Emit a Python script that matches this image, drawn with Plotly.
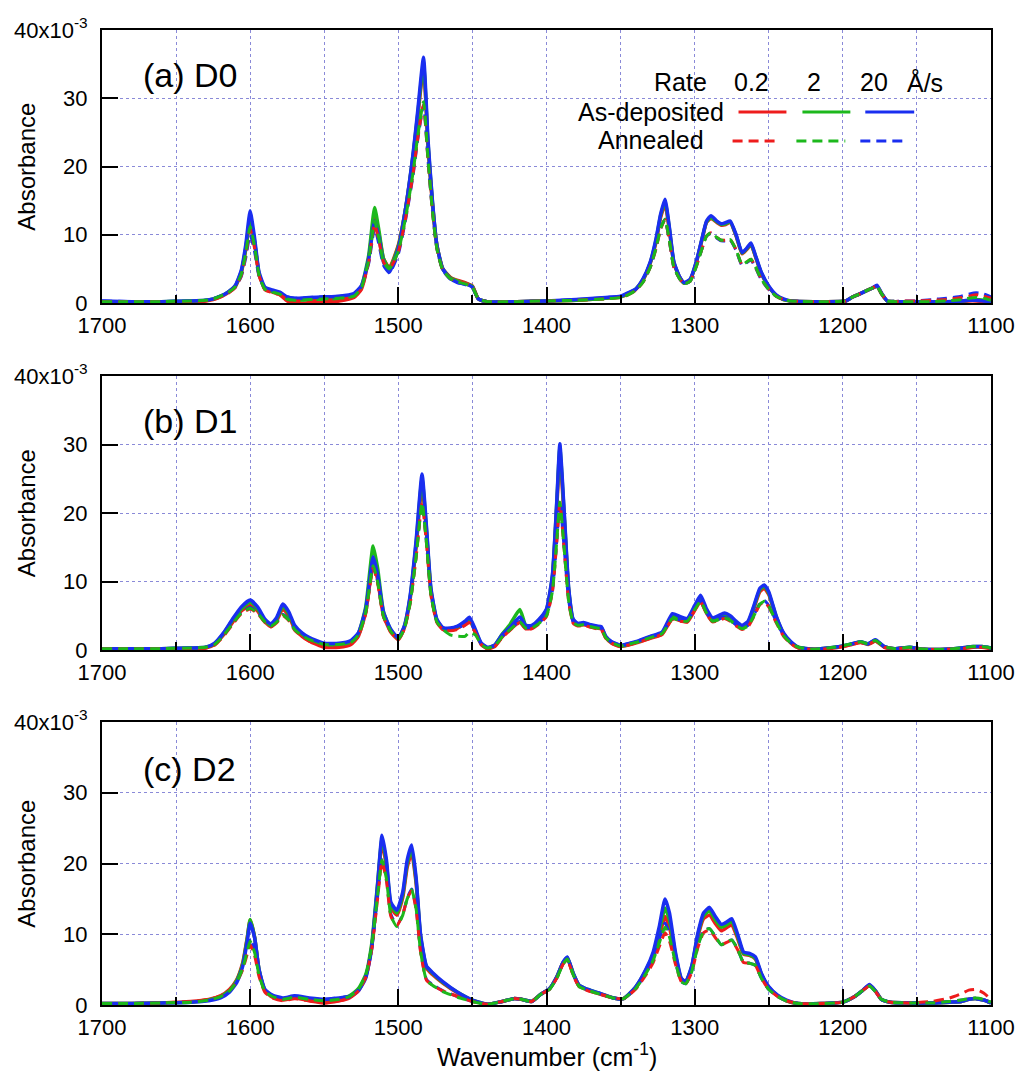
import plotly.graph_objects as go

# ---------------- data (absorbance in units of 1e-3) ----------------
RATES = ["0.2", "2", "20"]
COLORS = ["#ee1c1c", "#1cb81c", "#1a2ef0"]
PANEL_LABELS = ["(a) D0", "(b) D1", "(c) D2"]
X_TICKS = [1700, 1600, 1500, 1400, 1300, 1200, 1100]
Y_TICKS = [0, 10, 20, 30, 40]
Y_TICKTEXT = ["0", "10", "20", "30", "40x10<sup>-3</sup>"]

# ---- panel (a) D0 ----
A_wn = [1700, 1680, 1660, 1640, 1630, 1625, 1620, 1615, 1610, 1606,
        1603, 1600, 1597, 1594, 1590, 1585, 1580, 1575, 1570, 1560,
        1550, 1540, 1530, 1525, 1520, 1516, 1513, 1510, 1506, 1500,
        1495, 1490, 1487, 1483, 1480, 1477, 1474, 1470, 1465, 1460,
        1455, 1450, 1446, 1440, 1420, 1400, 1380, 1360, 1350, 1345,
        1340, 1335, 1330, 1326, 1323, 1320, 1317, 1314, 1310, 1307,
        1303, 1299, 1295, 1292, 1289, 1285, 1282, 1279, 1276, 1272,
        1268, 1265, 1262, 1259, 1255, 1250, 1245, 1240, 1235, 1220,
        1198, 1194, 1190, 1185, 1180, 1177, 1174, 1170, 1165, 1160,
        1150, 1140, 1130, 1120, 1115, 1110, 1105, 1100]
A_dep02 = [0.2, 0.2, 0.2, 0.2, 0.3, 0.5, 0.9, 1.5, 2.4, 4.4,
           7.8, 12.0, 8.8, 4.2, 2.0, 1.6, 1.2, 0.3, 0.0, 0.0,
           0.1, 0.3, 0.8, 2.0, 6.5, 13.0, 10.0, 6.5, 5.2, 8.5,
           14.0, 21.5, 27.0, 34.5, 23.0, 14.5, 8.5, 5.0, 3.8, 3.3,
           3.0, 2.5, 0.6, 0.2, 0.2, 0.3, 0.4, 0.7, 0.9, 1.3,
           1.9, 3.3, 5.8, 9.0, 12.5, 14.5, 10.5, 5.8, 3.7, 2.9,
           3.4, 5.8, 9.3, 11.8, 12.4, 11.8, 11.4, 11.5, 11.8, 9.8,
           7.2, 7.8, 8.5, 6.8, 4.3, 2.4, 1.1, 0.5, 0.3, 0.2,
           0.3, 0.8, 1.2, 1.7, 2.2, 2.5, 1.4, 0.3, 0.2, 0.2,
           0.2, 0.2, 0.2, 0.2, 0.3, 0.3, 0.2, 0.2]
A_dep2 = [0.2, 0.2, 0.2, 0.3, 0.4, 0.6, 1.0, 1.6, 2.5, 4.6,
          8.0, 12.5, 9.0, 4.3, 2.1, 1.7, 1.4, 0.6, 0.4, 0.5,
          0.6, 0.7, 1.1, 2.4, 7.0, 14.0, 10.5, 6.5, 5.0, 8.3,
          14.0, 21.8, 27.5, 35.0, 23.5, 14.8, 8.5, 5.0, 3.7, 3.2,
          2.9, 2.4, 0.6, 0.2, 0.2, 0.3, 0.4, 0.7, 0.9, 1.4,
          2.0, 3.4, 5.9, 9.3, 12.8, 14.8, 10.8, 5.9, 3.7, 2.9,
          3.4, 5.9, 9.4, 11.9, 12.5, 11.9, 11.5, 11.6, 11.9, 9.9,
          7.3, 7.9, 8.6, 6.9, 4.4, 2.4, 1.1, 0.5, 0.3, 0.2,
          0.3, 0.8, 1.2, 1.7, 2.2, 2.5, 1.4, 0.3, 0.2, 0.2,
          0.2, 0.2, 0.2, 0.3, 0.4, 0.5, 0.4, 0.2]
A_dep20 = [0.3, 0.2, 0.2, 0.3, 0.4, 0.6, 1.0, 1.6, 2.6, 4.8,
           8.5, 13.5, 9.5, 4.5, 2.3, 1.9, 1.6, 0.9, 0.7, 0.8,
           0.9, 1.0, 1.4, 2.5, 6.5, 12.0, 9.5, 6.0, 4.5, 8.0,
           14.0, 22.0, 28.0, 36.0, 24.0, 15.0, 8.5, 5.0, 3.6, 3.0,
           2.8, 2.3, 0.6, 0.2, 0.2, 0.3, 0.5, 0.8, 1.0, 1.5,
           2.0, 3.5, 6.0, 9.5, 13.0, 15.2, 11.0, 6.0, 3.8, 3.0,
           3.5, 6.0, 9.5, 12.0, 12.8, 12.0, 11.6, 11.8, 12.0, 10.0,
           7.4, 8.0, 8.8, 7.0, 4.5, 2.5, 1.2, 0.6, 0.3, 0.2,
           0.3, 0.8, 1.2, 1.7, 2.2, 2.6, 1.5, 0.3, 0.2, 0.2,
           0.2, 0.2, 0.2, 0.3, 0.4, 0.4, 0.3, 0.2]
A_ann02 = [0.2, 0.2, 0.2, 0.2, 0.3, 0.5, 0.9, 1.4, 2.3, 4.0,
           7.0, 10.8, 8.0, 4.0, 1.9, 1.5, 1.2, 0.5, 0.3, 0.3,
           0.4, 0.5, 0.9, 2.0, 6.0, 11.5, 9.0, 6.0, 5.0, 7.5,
           12.5, 19.0, 24.0, 29.0, 21.0, 13.5, 8.0, 4.8, 3.6, 3.2,
           2.9, 2.4, 0.6, 0.2, 0.2, 0.3, 0.4, 0.6, 0.8, 1.2,
           1.8, 3.0, 5.2, 8.0, 10.8, 12.2, 9.0, 5.2, 3.5, 2.8,
           3.2, 5.3, 8.0, 9.8, 10.3, 9.6, 9.2, 9.2, 9.3, 7.8,
           5.6, 6.0, 6.4, 5.3, 3.5, 2.0, 1.0, 0.5, 0.3, 0.2,
           0.3, 0.8, 1.2, 1.7, 2.2, 2.5, 1.4, 0.3, 0.2, 0.3,
           0.3, 0.4, 0.5, 0.8, 1.0, 1.2, 1.0, 0.7]
A_ann2 = [0.2, 0.2, 0.2, 0.3, 0.4, 0.6, 1.0, 1.5, 2.4, 4.2,
          7.3, 11.2, 8.3, 4.1, 2.0, 1.6, 1.3, 0.6, 0.4, 0.5,
          0.6, 0.7, 1.0, 2.2, 6.3, 12.0, 9.3, 6.0, 5.0, 7.6,
          12.6, 19.2, 24.3, 29.5, 21.2, 13.6, 8.0, 4.8, 3.6, 3.1,
          2.8, 2.3, 0.6, 0.2, 0.2, 0.3, 0.4, 0.6, 0.8, 1.2,
          1.8, 3.0, 5.2, 8.1, 10.9, 12.3, 9.1, 5.2, 3.5, 2.8,
          3.2, 5.3, 8.0, 9.8, 10.3, 9.6, 9.2, 9.2, 9.3, 7.8,
          5.6, 6.0, 6.4, 5.3, 3.5, 2.0, 1.0, 0.5, 0.3, 0.2,
          0.3, 0.8, 1.2, 1.7, 2.2, 2.5, 1.4, 0.3, 0.2, 0.2,
          0.2, 0.2, 0.3, 0.5, 0.7, 0.8, 0.7, 0.4]
A_ann20 = [0.3, 0.2, 0.2, 0.3, 0.4, 0.6, 1.0, 1.5, 2.3, 3.9,
           6.6, 10.0, 7.5, 3.9, 2.1, 1.8, 1.5, 0.9, 0.7, 0.8,
           0.9, 1.0, 1.3, 2.3, 5.8, 11.0, 8.5, 5.5, 4.4, 7.2,
           12.3, 18.8, 23.8, 29.0, 21.0, 13.5, 8.0, 4.8, 3.5, 3.0,
           2.7, 2.2, 0.6, 0.2, 0.2, 0.3, 0.5, 0.8, 1.0, 1.4,
           1.9, 3.1, 5.3, 8.2, 11.0, 12.2, 9.0, 5.2, 3.5, 2.8,
           3.2, 5.3, 8.0, 9.8, 10.2, 9.5, 9.1, 9.1, 9.2, 7.7,
           5.5, 5.9, 6.3, 5.2, 3.4, 2.0, 1.0, 0.5, 0.3, 0.2,
           0.3, 0.8, 1.2, 1.7, 2.2, 2.5, 1.4, 0.3, 0.2, 0.3,
           0.3, 0.5, 0.7, 1.0, 1.3, 1.5, 1.3, 0.9]

# ---- panel (b) D1 ----
B_wn = [1700, 1680, 1660, 1640, 1630, 1624, 1618, 1612, 1606, 1600,
        1595, 1590, 1586, 1582, 1578, 1574, 1570, 1565, 1560, 1550,
        1540, 1532, 1527, 1522, 1517, 1514, 1510, 1505, 1500, 1496,
        1492, 1488, 1484, 1481, 1478, 1474, 1470, 1465, 1460, 1455,
        1452, 1448, 1444, 1440, 1435, 1430, 1425, 1418, 1414, 1410,
        1405, 1400, 1396, 1393, 1391, 1388, 1385, 1382, 1379, 1375,
        1370, 1366, 1363, 1360, 1356, 1350, 1340, 1330, 1322, 1315,
        1310, 1305, 1300, 1296, 1292, 1288, 1284, 1280, 1276, 1272,
        1268, 1264, 1260, 1256, 1253, 1250, 1245, 1240, 1235, 1230,
        1220, 1210, 1200, 1194, 1188, 1183, 1178, 1172, 1165, 1155,
        1145, 1130, 1120, 1112, 1106, 1100]
B_dep02 = [0.2, 0.2, 0.2, 0.2, 0.3, 0.8, 2.2, 4.0, 5.7, 6.5,
           5.7, 4.1, 3.4, 4.3, 6.0, 5.0, 3.1, 2.0, 1.3, 0.4,
           0.4, 0.8, 2.0, 5.5, 12.6, 10.3, 5.0, 2.6, 1.5, 3.2,
           7.5, 15.0, 24.0, 17.0, 8.5, 4.2, 3.0, 2.9, 3.2, 3.9,
           4.4, 2.6, 0.8, 0.2, 0.5, 1.9, 2.9, 4.1, 3.1, 3.2,
           4.1, 5.6, 10.5, 21.0, 28.5, 19.0, 8.5, 4.2, 3.6, 3.7,
           3.4, 3.2, 3.1, 1.8, 1.0, 0.5, 1.0, 1.7, 2.3, 4.6,
           4.3, 4.1, 5.8, 7.1, 5.4, 4.2, 4.5, 4.9, 4.5, 3.7,
           3.2, 3.9, 6.1, 8.5, 9.0, 8.1, 4.7, 2.3, 1.0, 0.3,
           0.1, 0.2, 0.5, 0.8, 1.1, 0.8, 1.3, 0.4, 0.2, 0.3,
           0.1, 0.1, 0.2, 0.4, 0.4, 0.2]
B_dep2 = [0.2, 0.2, 0.2, 0.3, 0.4, 0.9, 2.4, 4.3, 6.0, 7.0,
          6.0, 4.3, 3.6, 4.6, 6.4, 5.3, 3.4, 2.3, 1.6, 0.8,
          0.8, 1.2, 2.4, 6.3, 15.2, 12.0, 5.6, 2.9, 1.7, 3.4,
          7.8, 15.6, 25.0, 17.5, 8.8, 4.4, 3.2, 3.1, 3.4, 4.1,
          4.6, 2.8, 0.9, 0.3, 0.7, 2.3, 3.6, 5.9, 3.6, 3.5,
          4.4, 5.9, 10.8, 21.7, 29.5, 19.6, 8.8, 4.4, 3.8, 3.9,
          3.6, 3.4, 3.3, 1.9, 1.1, 0.6, 1.1, 1.9, 2.5, 5.0,
          4.7, 4.4, 6.2, 7.6, 5.7, 4.5, 4.8, 5.2, 4.8, 4.0,
          3.4, 4.0, 6.3, 8.8, 9.3, 8.3, 4.9, 2.4, 1.1, 0.4,
          0.1, 0.3, 0.6, 0.9, 1.2, 0.9, 1.4, 0.5, 0.2, 0.4,
          0.1, 0.1, 0.3, 0.5, 0.5, 0.3]
B_dep20 = [0.2, 0.2, 0.2, 0.3, 0.4, 1.0, 2.5, 4.5, 6.3, 7.3,
           6.3, 4.5, 3.8, 4.8, 6.7, 5.6, 3.6, 2.5, 1.8, 1.0,
           1.0, 1.4, 2.5, 6.0, 13.6, 11.0, 5.5, 3.0, 1.8, 3.5,
           8.0, 16.0, 25.7, 18.0, 9.0, 4.5, 3.3, 3.2, 3.5, 4.2,
           4.8, 3.0, 1.0, 0.4, 0.7, 2.2, 3.2, 4.8, 3.6, 3.6,
           4.5, 6.0, 11.0, 22.0, 30.1, 20.0, 9.0, 4.5, 3.9, 4.0,
           3.7, 3.5, 3.4, 2.0, 1.2, 0.7, 1.2, 2.0, 2.6, 5.3,
           4.9, 4.6, 6.5, 8.0, 6.0, 4.7, 5.0, 5.4, 5.0, 4.2,
           3.6, 4.2, 6.5, 9.0, 9.5, 8.5, 5.0, 2.5, 1.2, 0.4,
           0.1, 0.3, 0.6, 0.9, 1.2, 0.9, 1.5, 0.5, 0.2, 0.4,
           0.1, 0.1, 0.3, 0.5, 0.5, 0.3]
B_ann02 = [0.2, 0.2, 0.2, 0.2, 0.3, 0.7, 2.0, 3.7, 5.3, 6.0,
           5.3, 4.0, 3.4, 4.0, 5.0, 4.3, 2.9, 2.0, 1.3, 0.5,
           0.5, 0.9, 2.0, 5.3, 12.0, 9.8, 4.8, 2.6, 1.6, 3.0,
           6.8, 13.5, 21.4, 15.5, 8.0, 4.0, 3.0, 2.8, 3.0, 3.6,
           4.0, 2.5, 0.8, 0.2, 0.5, 1.8, 2.8, 4.0, 3.1, 3.1,
           3.8, 4.9, 8.5, 16.0, 21.5, 14.5, 7.0, 3.9, 3.5, 3.6,
           3.3, 3.1, 3.0, 1.7, 1.0, 0.5, 1.0, 1.7, 2.3, 4.5,
           4.2, 4.1, 5.8, 7.0, 5.3, 4.1, 4.3, 4.6, 4.2, 3.5,
           3.0, 3.4, 4.9, 6.6, 7.0, 6.3, 4.0, 2.0, 0.9, 0.3,
           0.1, 0.2, 0.5, 0.8, 1.1, 0.8, 1.3, 0.4, 0.2, 0.3,
           0.1, 0.1, 0.2, 0.4, 0.4, 0.2]
B_ann2 = [0.2, 0.2, 0.2, 0.3, 0.4, 0.8, 2.1, 3.8, 5.4, 6.1,
          5.4, 4.1, 3.5, 4.1, 5.1, 4.4, 3.0, 2.1, 1.5, 0.8,
          0.8, 1.1, 2.2, 5.5, 12.3, 10.0, 4.9, 2.7, 1.6, 3.1,
          6.9, 13.6, 21.5, 15.6, 8.1, 4.1, 3.0, 2.2, 2.0, 2.0,
          2.6, 2.2, 0.8, 0.3, 0.6, 1.9, 2.9, 4.1, 3.2, 3.2,
          3.9, 5.0, 8.6, 16.1, 21.6, 14.6, 7.1, 4.0, 3.6, 3.7,
          3.4, 3.2, 3.1, 1.8, 1.1, 0.6, 1.1, 1.8, 2.4, 4.6,
          4.3, 4.2, 5.9, 7.1, 5.4, 4.2, 4.4, 4.7, 4.3, 3.6,
          3.1, 3.5, 5.0, 6.7, 7.1, 6.4, 4.1, 2.1, 1.0, 0.4,
          0.1, 0.3, 0.6, 0.9, 1.2, 0.9, 1.4, 0.5, 0.2, 0.4,
          0.1, 0.1, 0.3, 0.5, 0.5, 0.3]
B_ann20 = [0.2, 0.2, 0.2, 0.3, 0.4, 0.9, 2.2, 3.9, 5.5, 6.2,
           5.5, 4.2, 3.6, 4.2, 5.2, 4.5, 3.1, 2.2, 1.6, 0.9,
           0.9, 1.2, 2.3, 5.6, 12.4, 10.1, 5.0, 2.8, 1.7, 3.2,
           7.0, 13.7, 21.6, 15.7, 8.2, 4.2, 3.1, 3.0, 3.2, 3.8,
           4.2, 2.7, 0.9, 0.4, 0.7, 2.0, 3.0, 4.2, 3.3, 3.3,
           4.0, 5.1, 8.7, 16.2, 21.7, 14.7, 7.2, 4.1, 3.7, 3.8,
           3.5, 3.3, 3.2, 1.9, 1.2, 0.7, 1.2, 1.9, 2.5, 4.7,
           4.4, 4.3, 6.0, 7.2, 5.5, 4.3, 4.5, 4.8, 4.4, 3.7,
           3.2, 3.6, 5.1, 6.8, 7.2, 6.5, 4.2, 2.2, 1.1, 0.4,
           0.1, 0.3, 0.6, 0.9, 1.2, 0.9, 1.5, 0.5, 0.2, 0.4,
           0.1, 0.1, 0.3, 0.5, 0.5, 0.3]

# ---- panel (c) D2 ----
C_wn = [1700, 1680, 1660, 1640, 1628, 1620, 1614, 1609, 1605, 1602,
        1600, 1597, 1594, 1590, 1585, 1578, 1570, 1560, 1550, 1540,
        1533, 1527, 1522, 1518, 1514, 1511, 1508, 1505, 1501, 1497,
        1494, 1491, 1488, 1485, 1481, 1477, 1470, 1460, 1450, 1440,
        1430, 1422, 1417, 1410, 1404, 1398, 1393, 1389, 1386, 1382,
        1378, 1372, 1365, 1355, 1348, 1340, 1333, 1328, 1324, 1320,
        1317, 1313, 1309, 1306, 1302, 1298, 1294, 1290, 1286, 1282,
        1278, 1275, 1271, 1267, 1263, 1259, 1255, 1250, 1244, 1238,
        1230, 1215, 1200, 1192, 1187, 1182, 1178, 1174, 1168, 1155,
        1140, 1128, 1120, 1115, 1110, 1105, 1100]
C_dep02 = [0.2, 0.2, 0.3, 0.5, 0.8, 1.3, 2.2, 3.6, 6.0, 9.5,
           12.0, 9.6, 4.9, 2.0, 1.1, 0.7, 1.0, 0.6, 0.3, 0.6,
           1.0, 2.0, 4.0, 8.2, 16.5, 23.0, 19.5, 13.8, 12.7, 15.2,
           19.5, 21.5, 17.2, 9.5, 5.2, 4.3, 3.1, 1.7, 0.6, 0.1,
           0.5, 0.9, 0.8, 0.5, 1.5, 2.3, 4.0, 5.9, 6.6, 4.4,
           2.7, 2.1, 1.6, 1.0, 0.9, 2.4, 4.7, 6.8, 9.5, 12.5,
           11.0, 6.8, 3.6, 3.3, 5.2, 9.5, 12.2, 12.7, 11.5, 10.5,
           11.0, 11.3, 9.4, 7.2, 7.0, 6.5, 4.3, 2.5, 1.3, 0.6,
           0.2, 0.2, 0.4, 1.2, 2.0, 2.8, 2.0, 0.8, 0.4, 0.3,
           0.3, 0.4, 0.5, 0.8, 0.9, 0.7, 0.3]
C_dep2 = [0.2, 0.2, 0.3, 0.4, 0.7, 1.2, 2.0, 3.5, 5.8, 9.4,
          12.1, 9.6, 5.0, 2.1, 1.3, 0.9, 1.2, 0.9, 0.7, 0.9,
          1.3, 2.3, 4.3, 8.6, 17.2, 23.5, 20.0, 14.2, 13.0, 15.6,
          20.0, 22.0, 17.6, 9.8, 5.4, 4.5, 3.2, 1.8, 0.7, 0.1,
          0.5, 0.9, 0.8, 0.5, 1.5, 2.3, 4.0, 5.9, 6.7, 4.5,
          2.8, 2.2, 1.7, 1.0, 0.9, 2.5, 4.9, 7.2, 10.3, 13.7,
          12.0, 7.2, 3.7, 3.3, 5.4, 9.8, 12.6, 13.3, 12.0, 11.0,
          11.4, 11.8, 9.7, 7.3, 7.1, 6.6, 4.4, 2.5, 1.3, 0.6,
          0.2, 0.2, 0.4, 1.2, 2.0, 2.8, 2.0, 0.8, 0.4, 0.3,
          0.3, 0.4, 0.5, 0.8, 0.9, 0.7, 0.3]
C_dep20 = [0.2, 0.2, 0.3, 0.4, 0.6, 1.0, 1.8, 3.2, 5.5, 9.0,
           11.6, 9.5, 5.0, 2.2, 1.4, 1.0, 1.3, 1.0, 0.8, 1.0,
           1.2, 2.0, 3.8, 8.0, 17.0, 24.0, 20.5, 14.5, 13.4, 16.0,
           20.5, 22.6, 18.0, 10.0, 5.5, 4.6, 3.3, 1.8, 0.7, 0.1,
           0.5, 0.9, 0.8, 0.5, 1.5, 2.3, 4.0, 6.0, 6.8, 4.5,
           2.8, 2.2, 1.7, 1.0, 0.9, 2.5, 5.0, 7.5, 11.0, 15.0,
           13.0, 7.5, 3.8, 3.3, 5.5, 10.0, 13.0, 13.8, 12.5, 11.4,
           11.8, 12.2, 10.0, 7.5, 7.3, 6.8, 4.5, 2.6, 1.4, 0.7,
           0.2, 0.2, 0.4, 1.2, 2.0, 2.9, 2.0, 0.8, 0.4, 0.3,
           0.3, 0.4, 0.5, 0.8, 0.9, 0.7, 0.3]
C_ann02 = [0.2, 0.2, 0.3, 0.5, 0.8, 1.3, 2.1, 3.3, 5.0, 7.2,
           8.5, 7.0, 4.0, 1.8, 1.0, 0.6, 0.9, 0.6, 0.3, 0.6,
           1.0, 2.0, 3.9, 7.8, 15.0, 20.3, 17.5, 12.5, 11.2, 12.8,
           15.0, 16.2, 13.5, 7.5, 3.5, 2.8, 2.0, 1.2, 0.5, 0.1,
           0.5, 0.9, 0.8, 0.5, 1.5, 2.2, 3.8, 5.7, 6.4, 4.2,
           2.6, 2.0, 1.6, 1.0, 0.9, 2.2, 4.2, 6.0, 8.2, 10.2,
           9.0, 5.8, 3.3, 3.0, 4.6, 8.0, 10.2, 10.6, 9.5, 8.5,
           8.9, 9.1, 7.8, 6.0, 5.9, 5.6, 3.8, 2.2, 1.2, 0.6,
           0.2, 0.2, 0.4, 1.2, 2.0, 2.7, 1.9, 0.8, 0.4, 0.3,
           0.5, 1.0, 1.6, 2.1, 2.2, 1.7, 0.8]
C_ann2 = [0.2, 0.2, 0.3, 0.4, 0.7, 1.2, 2.0, 3.3, 5.2, 7.6,
          9.0, 7.4, 4.2, 1.9, 1.2, 0.8, 1.1, 0.8, 0.6, 0.8,
          1.2, 2.2, 4.2, 8.2, 15.5, 20.5, 17.8, 12.6, 11.1, 12.7,
          15.0, 16.3, 13.6, 7.6, 3.5, 2.8, 1.9, 1.1, 0.5, 0.1,
          0.5, 0.9, 0.8, 0.5, 1.5, 2.2, 3.8, 5.7, 6.5, 4.3,
          2.6, 2.1, 1.6, 1.0, 0.9, 2.3, 4.4, 6.3, 8.7, 11.0,
          9.6, 6.0, 3.3, 3.0, 4.7, 8.2, 10.4, 10.8, 9.7, 8.5,
          9.0, 9.2, 7.9, 6.0, 5.9, 5.6, 3.8, 2.2, 1.2, 0.6,
          0.2, 0.2, 0.4, 1.2, 2.0, 2.7, 1.9, 0.8, 0.4, 0.3,
          0.3, 0.5, 0.7, 0.9, 1.0, 0.8, 0.4]
C_ann20 = [0.2, 0.2, 0.3, 0.4, 0.7, 1.2, 2.0, 3.4, 5.4, 8.0,
           9.4, 7.7, 4.4, 2.0, 1.3, 0.9, 1.2, 0.9, 0.8, 1.0,
           1.2, 2.1, 4.0, 8.0, 15.3, 20.8, 18.0, 12.8, 11.3, 12.8,
           15.1, 16.4, 13.7, 7.7, 3.6, 2.9, 2.0, 1.2, 0.5, 0.1,
           0.5, 0.9, 0.8, 0.5, 1.5, 2.3, 3.9, 5.8, 6.6, 4.4,
           2.7, 2.1, 1.7, 1.0, 0.9, 2.3, 4.5, 6.6, 9.2, 11.6,
           10.0, 6.2, 3.3, 3.0, 4.8, 8.3, 10.5, 10.8, 9.7, 8.5,
           9.0, 9.2, 7.9, 6.0, 5.9, 5.6, 3.8, 2.2, 1.2, 0.6,
           0.2, 0.2, 0.4, 1.2, 2.0, 2.7, 1.9, 0.8, 0.4, 0.3,
           0.3, 0.5, 0.7, 0.9, 0.9, 0.7, 0.3]

# ---------------- figure ----------------
W, H = 1027, 1082
M_L, M_R, M_T, M_B = 102, 34, 30, 77
FONT = "Liberation Sans, Arial, sans-serif"
GRID = "#8a8ad8"

panels = [
    (A_wn, [A_dep02, A_dep2, A_dep20], [A_ann02, A_ann2, A_ann20]),
    (B_wn, [B_dep02, B_dep2, B_dep20], [B_ann02, B_ann2, B_ann20]),
    (C_wn, [C_dep02, C_dep2, C_dep20], [C_ann02, C_ann2, C_ann20]),
]
for wn, deps, anns in panels:
    for s in deps + anns:
        assert len(s) == len(wn), (len(s), len(wn))

plot_h = H - M_T - M_B
def pdom(top_px, bot_px):
    return [(H - M_B - bot_px) / plot_h, (H - M_B - top_px) / plot_h]

domains = [pdom(30, 303), pdom(376, 650), pdom(722, 1005)]

fig = go.Figure()
for i, (wn, deps, anns) in enumerate(panels):
    xa = "x" if i == 0 else f"x{i+1}"
    ya = "y" if i == 0 else f"y{i+1}"
    for s, c, r in zip(deps, COLORS, RATES):
        fig.add_trace(go.Scatter(x=wn, y=s, xaxis=xa, yaxis=ya, mode="lines",
                                 name=f"As-deposited {r} Å/s",
                                 line=dict(color=c, width=3.5, shape="spline", smoothing=0.5),
                                 showlegend=False))
    for j in [2, 0, 1]:
        fig.add_trace(go.Scatter(x=wn, y=anns[j], xaxis=xa, yaxis=ya, mode="lines",
                                 name=f"Annealed {RATES[j]} Å/s",
                                 line=dict(color=COLORS[j], width=3, dash="10px,6px",
                                           shape="spline", smoothing=0.5),
                                 showlegend=False))

    xkey = "xaxis" if i == 0 else f"xaxis{i+1}"
    ykey = "yaxis" if i == 0 else f"yaxis{i+1}"
    fig.update_layout(**{
        xkey: dict(domain=[0, 1], anchor=ya, range=[1700, 1100],
                   tickmode="array", tickvals=X_TICKS,
                   ticks="inside", ticklen=16, tickwidth=2, tickcolor="black",
                   showline=True, linewidth=2, linecolor="black", mirror=True,
                   showgrid=True, gridcolor=GRID, gridwidth=1, griddash="dot",
                   zeroline=False, ticklabelstandoff=2,
                   tickfont=dict(family=FONT, size=22, color="black"),
                   minor=dict(tickmode="array", tickvals=[1650, 1550, 1450, 1350, 1250, 1150],
                              ticks="inside", ticklen=8, tickwidth=2, tickcolor="black",
                              showgrid=True, gridcolor=GRID, gridwidth=1, griddash="dot")),
        ykey: dict(domain=domains[i], anchor=xa, range=[0, 40],
                   tickmode="array", tickvals=Y_TICKS, ticktext=Y_TICKTEXT,
                   ticks="inside", ticklen=16, tickwidth=2, tickcolor="black",
                   showline=True, linewidth=2, linecolor="black", mirror=True,
                   showgrid=True, gridcolor=GRID, gridwidth=1, griddash="dot",
                   zeroline=False, ticklabelstandoff=8,
                   tickfont=dict(family=FONT, size=22, color="black")),
    })
    # panel label
    fig.add_annotation(text=PANEL_LABELS[i], xref=f"{xa} domain", yref=f"{ya} domain",
                       x=0.044, y=0.835, xanchor="left", yanchor="middle", showarrow=False,
                       font=dict(family=FONT, size=34, color="black"))
    # y-axis title
    fig.add_annotation(text="Absorbance", xref="paper", yref=f"{ya} domain",
                       x=(26 - M_L) / (W - M_L - M_R), y=0.5, textangle=-90,
                       xanchor="center", yanchor="middle", showarrow=False,
                       font=dict(family=FONT, size=24, color="black"))

# x-axis title
fig.add_annotation(text="Wavenumber (cm<sup>-1</sup>)", xref="x3 domain", yref="paper",
                   x=0.5, y=(1005 - 1055) / plot_h, xanchor="center", yanchor="middle",
                   showarrow=False, font=dict(family=FONT, size=25, color="black"))

# legend block in panel (a)
LEG_FONT = dict(family=FONT, size=25, color="black")
fig.add_annotation(text="Rate", xref="x domain", yref="y domain", x=0.6824, y=0.8095,
                   xanchor="right", yanchor="middle", showarrow=False, font=LEG_FONT)
for r, xc in zip(RATES, [0.7306, 0.8013, 0.8687]):
    fig.add_annotation(text=r, xref="x domain", yref="y domain", x=xc, y=0.8095,
                       xanchor="center", yanchor="middle", showarrow=False, font=LEG_FONT)
fig.add_annotation(text="Å/s", xref="x domain", yref="y domain", x=0.9259, y=0.8095,
                   xanchor="center", yanchor="middle", showarrow=False, font=LEG_FONT)
fig.add_annotation(text="As-deposited", xref="x domain", yref="y domain", x=0.7015, y=0.6996,
                   xanchor="right", yanchor="middle", showarrow=False, font=LEG_FONT)
fig.add_annotation(text="Annealed", xref="x domain", yref="y domain", x=0.6790, y=0.5971,
                   xanchor="right", yanchor="middle", showarrow=False, font=LEG_FONT)
solid_x = [(0.7160, 0.7699), (0.7879, 0.8418), (0.8586, 0.9136)]
dash_x = [(0.7093, 0.7632), (0.7811, 0.8361), (0.8530, 0.9068)]
for (x0, x1), c in zip(solid_x, COLORS):
    fig.add_shape(type="line", xref="x domain", yref="y domain", x0=x0, x1=x1,
                  y0=0.6996, y1=0.6996, line=dict(color=c, width=3))
for (x0, x1), c in zip(dash_x, COLORS):
    fig.add_shape(type="line", xref="x domain", yref="y domain", x0=x0, x1=x1,
                  y0=0.5934, y1=0.5934, line=dict(color=c, width=3, dash="10px,6px"))

fig.update_layout(width=W, height=H, margin=dict(l=M_L, r=M_R, t=M_T, b=M_B),
                  paper_bgcolor="white", plot_bgcolor="white", showlegend=False,
                  font=dict(family=FONT, color="black"))

fig.write_html("out.html")
